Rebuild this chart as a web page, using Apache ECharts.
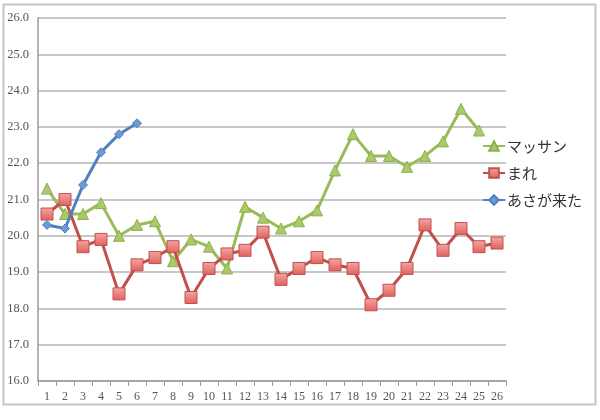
<!DOCTYPE html>
<html>
<head>
<meta charset="utf-8">
<title>chart</title>
<script src="https://cdn.jsdelivr.net/npm/echarts@6/dist/echarts.min.js"></script>
<style>
  html, body { margin: 0; padding: 0; background: #fff; }
  #chart1 { width: 600px; height: 420px; }
</style>
</head>
<body>
<div id="chart1"></div>
<script type="text/javascript">
// データ
var categories = ['1','2','3','4','5','6','7','8','9','10','11','12','13','14','15','16','17','18','19','20','21','22','23','24','25','26'];
var massan = [21.3, 20.6, 20.6, 20.9, 20.0, 20.3, 20.4, 19.3, 19.9, 19.7, 19.1, 20.8, 20.5, 20.2, 20.4, 20.7, 21.8, 22.8, 22.2, 22.2, 21.9, 22.2, 22.6, 23.5, 22.9, null];
var mare = [20.6, 21.0, 19.7, 19.9, 18.4, 19.2, 19.4, 19.7, 18.3, 19.1, 19.5, 19.6, 20.1, 18.8, 19.1, 19.4, 19.2, 19.1, 18.1, 18.5, 19.1, 20.3, 19.6, 20.2, 19.7, 19.8];
var asa = [20.3, 20.2, 21.4, 22.3, 22.8, 23.1];
var seriesNames = ['マッサン', 'まれ', 'あさが来た'];

var axisFont = '"Liberation Serif", "DejaVu Serif", serif';
var jpFont = '"Noto Sans CJK JP", sans-serif';

var myChart1 = echarts.init(document.getElementById('chart1'));

function sq(color) {
    return new echarts.graphic.LinearGradient(0, 0, 0, 1, [
        { offset: 0, color: '#f5a6a4' },
        { offset: 1, color: color }
    ]);
}

myChart1.setOption({
    animation: false,
    backgroundColor: '#fff',
    graphic: [{
        type: 'rect',
        shape: { x: 3.5, y: 4.5, width: 592, height: 400 },
        style: { fill: 'none', stroke: '#c6c6c6', lineWidth: 2 },
        silent: true
    }],
    grid: { left: 38, right: 94, top: 18, bottom: 39 },
    legend: {
        orient: 'vertical',
        left: 482,
        top: 136,
        padding: 0,
        itemWidth: 22,
        itemHeight: 12,
        itemGap: 7,
        textStyle: { fontFamily: jpFont, fontSize: 15, color: '#333', lineHeight: 20, padding: [0, 0, 0, -3] },
        data: seriesNames
    },
    xAxis: {
        type: 'category',
        data: categories,
        boundaryGap: true,
        axisLine: { lineStyle: { color: '#9a9a9a', width: 1.5 } },
        axisTick: { show: true, lineStyle: { color: '#9a9a9a' }, length: 5 },
        axisLabel: { fontFamily: axisFont, fontSize: 12, color: '#555', margin: 10, interval: 0 },
        splitLine: { show: false }
    },
    yAxis: {
        type: 'value',
        min: 16,
        max: 26,
        interval: 1,
        axisLine: { show: true, lineStyle: { color: '#9a9a9a', width: 1.5 } },
        axisTick: { show: false },
        axisLabel: {
            fontFamily: axisFont, fontSize: 12.5, color: '#555', margin: 9,
            formatter: function (v) { return v.toFixed(1); }
        },
        splitLine: { lineStyle: { color: '#b5b5b5', width: 1.5 } }
    },
    series: [
        {
            name: seriesNames[0],
            type: 'line',
            data: massan,
            symbol: 'triangle',
            symbolSize: 11,
            lineStyle: { color: '#9bbb59', width: 3 },
            itemStyle: { color: '#a9c96a', borderColor: '#8eb04c', borderWidth: 1 },
            z: 2
        },
        {
            name: seriesNames[1],
            type: 'line',
            data: mare,
            symbol: 'rect',
            symbolSize: 12,
            lineStyle: { color: '#c0504d', width: 3 },
            itemStyle: { color: sq('#e0605c'), borderColor: '#c0504d', borderWidth: 1 },
            z: 3
        },
        {
            name: seriesNames[2],
            type: 'line',
            data: asa,
            symbol: 'diamond',
            symbolSize: 9,
            lineStyle: { color: '#4f81bd', width: 3 },
            itemStyle: { color: '#6b9ad6', borderColor: '#4f81bd', borderWidth: 1 },
            z: 4
        }
    ]
});
</script>
</body>
</html>
